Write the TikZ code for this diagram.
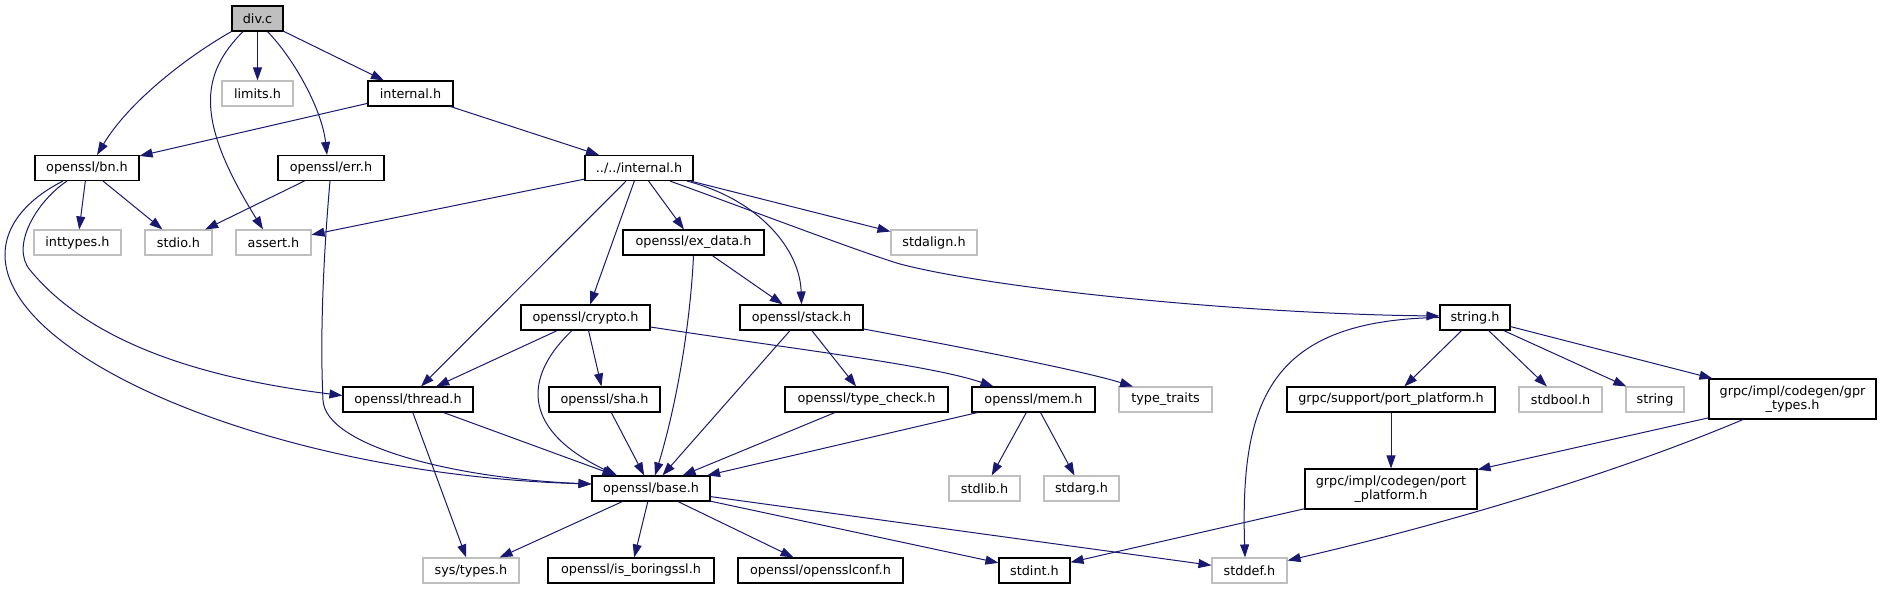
\documentclass[tikz,border=0pt]{standalone}
\usepackage{fontspec}
\setmainfont{DejaVu Sans}
\usepackage{xcolor}
\definecolor{navy}{rgb}{0.1, 0.1, 0.44}
\definecolor{sysgrey}{rgb}{0.75, 0.75, 0.75}
\usepackage{tikz}
\usetikzlibrary{
	arrows.meta
}
\tikzstyle{every picture}+=[>={Triangle[length=13pt, width=9pt]}]

\begin{document}
\begin{tikzpicture}[x=1pt, y=-1pt,
		box/.style={draw=black, line width=1.1pt, inner sep=0pt, minimum height=25pt, align=center, font=\fontsize{12.8}{13.8}\selectfont},
		sysbox/.style={box, draw=sysgrey},
		arr/.style={->, navy, line width=1pt}
	]
	\useasboundingbox (0,0) rectangle (1881,589);

	% top rows
	\node[box, fill=sysgrey, minimum width=51pt] (divc) at (257.5,18.5) {div.c};
	\node[sysbox, minimum width=71pt] (limits) at (257.5,93.5) {limits.h};
	\node[box, minimum width=85pt] (internal) at (410.5,93.5) {internal.h};
	\node[box, minimum width=104pt] (bn) at (87,168) {openssl/bn.h};
	\node[box, minimum width=106pt] (err) at (331,168) {openssl/err.h};
	\node[box, minimum width=108pt] (dotint) at (639,168) {../../internal.h};
	\node[sysbox, minimum width=87pt] (inttypes) at (77.5,242.5) {inttypes.h};
	\node[sysbox, minimum width=67pt] (stdio) at (178.5,242.5) {stdio.h};
	\node[sysbox, minimum width=75pt] (assert) at (273.5,242.5) {assert.h};
	\node[box, minimum width=141pt] (exdata) at (693.5,242.5) {openssl/ex\_data.h};
	\node[sysbox, minimum width=86pt] (stdalign) at (934,242.5) {stdalign.h};

	% middle rows
	\node[box, minimum width=129pt] (crypto) at (585.5,317.5) {openssl/crypto.h};
	\node[box, minimum width=123pt] (stack) at (801.5,317.5) {openssl/stack.h};
	\node[box, minimum width=70pt] (stringh) at (1475,317.5) {string.h};
	\node[box, minimum width=130pt] (thread) at (408,399.5) {openssl/thread.h};
	\node[box, minimum width=111pt] (sha) at (604.5,399.5) {openssl/sha.h};
	\node[box, minimum width=163pt] (typecheck) at (866.5,399.5) {openssl/type\_check.h};
	\node[box, minimum width=123pt] (mem) at (1033.5,399.5) {openssl/mem.h};
	\node[sysbox, minimum width=93pt] (typetraits) at (1165.5,399.5) {type\_traits};
	\node[box, minimum width=208pt] (portplat) at (1391,399.5) {grpc/support/port\_platform.h};
	\node[sysbox, minimum width=83pt] (stdbool) at (1560.5,399.5) {stdbool.h};
	\node[sysbox, minimum width=58pt] (stringn) at (1655,399.5) {string};
	\node[box, minimum width=167pt, minimum height=40pt] (gprtypes) at (1792.5,399) {grpc/impl/codegen/gpr\\\_types.h};

	% bottom rows
	\node[box, minimum width=118pt] (base) at (651,488.5) {openssl/base.h};
	\node[sysbox, minimum width=71pt] (stdlib) at (984.5,488.5) {stdlib.h};
	\node[sysbox, minimum width=75pt] (stdarg) at (1081.5,488.5) {stdarg.h};
	\node[box, minimum width=172pt, minimum height=40pt] (cgport) at (1391,489) {grpc/impl/codegen/port\\\_platform.h};
	\node[sysbox, minimum width=96pt] (systypes) at (471,570.5) {sys/types.h};
	\node[box, minimum width=166pt] (isboring) at (631,570.5) {openssl/is\_boringssl.h};
	\node[box, minimum width=165pt] (osslconf) at (820.5,570.5) {openssl/opensslconf.h};
	\node[box, minimum width=71pt] (stdint) at (1034.5,570.5) {stdint.h};
	\node[sysbox, minimum width=75pt] (stddef) at (1249.5,570.5) {stddef.h};

	% straight includes, centre to centre
	\foreach \src/\dst in {divc/limits, divc/internal, internal/bn, internal/dotint,
			bn/inttypes, bn/stdio, err/stdio, dotint/assert, dotint/thread, dotint/crypto,
			dotint/exdata, dotint/stdalign, exdata/stack, crypto/thread, crypto/sha,
			stack/base, stack/typecheck, thread/base, thread/systypes, sha/base,
			typecheck/base, mem/base, mem/stdlib, mem/stdarg, base/systypes,
			base/isboring, base/osslconf, base/stdint, base/stddef, stringh/portplat,
			stringh/stdbool, stringh/stringn, stringh/gprtypes, portplat/cgport,
			gprtypes/cgport, cgport/stdint} {
		\draw[arr] (\src) -- (\dst);
	}

	% curved includes from div.c
	\draw[arr] (divc.south west) .. controls (190,55) and (130,100) .. ([xshift=10pt]bn.north);
	\draw[arr] ([xshift=-14.5pt]divc.south) .. controls (200,75) and (195,120) .. ([xshift=-10.5pt]assert.north);
	\draw[arr] ([xshift=10pt]divc.south) .. controls (295,60) and (322,110) .. ([xshift=-4pt]err.north);

	% bn.h and err.h swing round to the left
	\draw[arr] ([xshift=-20pt]bn.south) .. controls (37,201) and (10,246) .. (30,270)
		.. controls (89,342) and (200,378) .. ([yshift=4pt]thread.west);
	\draw[arr] ([xshift=-24pt]bn.south) .. controls (35,195) and (5,220) .. (5,255)
		.. controls (5,360) and (280,475) .. ([yshift=4.5pt]base.west);
	\draw[arr] ([xshift=-1pt]err.south) .. controls (323,260) and (320,340) .. (323,400)
		.. controls (325,445) and (450,478) .. ([yshift=4.5pt]base.west);

	% the rest of the bent ones
	\draw[arr] ([xshift=48pt]dotint.south) .. controls (760,200) and (800,250) .. (stack.north);
	\draw[arr] ([xshift=31pt]dotint.south) .. controls (750,210) and (860,252) .. (900,264)
		.. controls (1000,290) and (1250,314) .. ([yshift=1.5pt]stringh.west);
	\draw[arr] (exdata.south) .. controls (690,330) and (675,410) .. ([xshift=4pt]base.north);
	\draw[arr] ([xshift=-13.5pt]crypto.south) .. controls (520,380) and (525,432) .. ([xshift=-34pt]base.north);
	\draw[arr] ([yshift=-9.5pt]crypto.east) .. controls (800,350) and (930,365) .. ([xshift=-40pt]mem.north);
	\draw[arr] ([yshift=-11.5pt]stack.east) .. controls (950,345) and (1080,370) .. ([xshift=-32.5pt]typetraits.north);
	\draw[arr] (stringh.west) .. controls (1270,320) and (1240,400) .. ([xshift=-4.5pt]stddef.north);
	\draw[arr] ([xshift=-49.5pt]gprtypes.south) .. controls (1600,480) and (1420,530) .. ([yshift=10pt]stddef.east);

\end{tikzpicture}
\end{document}
